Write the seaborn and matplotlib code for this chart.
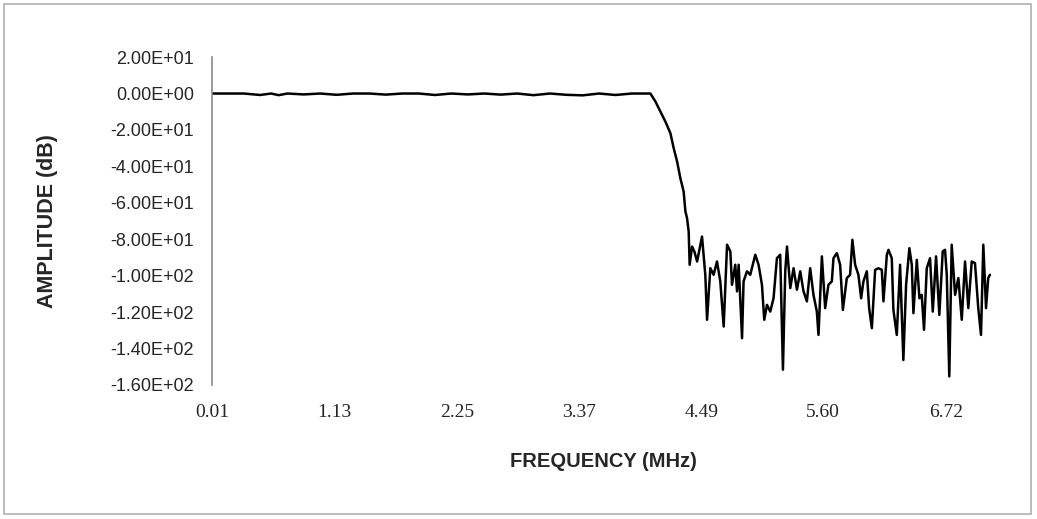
import matplotlib
matplotlib.use("Agg")
import matplotlib.pyplot as plt
import seaborn as sns
import numpy as np
import pandas as pd
from matplotlib.patches import Rectangle

# passband (MHz, dB)
pass_freq = [0.01, 0.15, 0.30, 0.45, 0.55, 0.62, 0.70, 0.85, 1.00, 1.15, 1.30, 1.45,
             1.60, 1.75, 1.90, 2.05, 2.20, 2.35, 2.50, 2.65, 2.80, 2.95, 3.10, 3.25,
             3.40, 3.55, 3.70, 3.85, 3.95]
pass_amp = [0.0, 0.0, 0.0, -0.8, 0.0, -0.9, 0.0, -0.5, 0.0, -0.7, 0.0, 0.0,
            -0.6, 0.0, 0.0, -0.8, 0.0, -0.5, 0.0, -0.6, 0.0, -0.9, 0.0, -0.7,
            -1.0, 0.0, -0.8, 0.0, 0.0]

# transition band
trans_freq = [4.019, 4.065, 4.110, 4.156, 4.202, 4.232, 4.263, 4.293, 4.323, 4.339, 4.354]
trans_amp = [0.0, -4.4, -9.9, -15.4, -21.8, -30.0, -37.3, -46.5, -53.8, -64.7, -68.4]

# stopband noise floor
stop_freq = [4.369, 4.378, 4.400, 4.421, 4.446, 4.491, 4.521, 4.537, 4.567, 4.597,
             4.628, 4.658, 4.689, 4.720, 4.750, 4.765, 4.795, 4.811, 4.826, 4.857,
             4.871, 4.902, 4.932, 4.978, 5.008, 5.039, 5.060, 5.085, 5.115, 5.145,
             5.176, 5.206, 5.231, 5.252, 5.268, 5.298, 5.328, 5.359, 5.389, 5.419,
             5.450, 5.480, 5.510, 5.541, 5.556, 5.587, 5.617, 5.647, 5.678, 5.693,
             5.724, 5.754, 5.779, 5.815, 5.845, 5.866, 5.891, 5.921, 5.946, 5.967,
             5.998, 6.019, 6.044, 6.074, 6.104, 6.135, 6.150, 6.181, 6.196, 6.226,
             6.241, 6.272, 6.302, 6.332, 6.357, 6.387, 6.409, 6.424, 6.455, 6.479,
             6.500, 6.521, 6.546, 6.576, 6.601, 6.631, 6.661, 6.692, 6.713, 6.729,
             6.743, 6.752, 6.774, 6.805, 6.835, 6.866, 6.896, 6.926, 6.957, 6.987,
             7.017, 7.042, 7.063, 7.088, 7.108, 7.124]
stop_amp = [-75.7, -94.0, -84.0, -86.7, -92.2, -78.5, -99.5, -124.2, -95.9, -99.5,
            -92.2, -103.1, -127.9, -83.0, -86.7, -105.0, -94.0, -108.6, -94.0, -134.3,
            -103.1, -97.6, -99.5, -88.5, -94.0, -105.0, -124.2, -116.0, -119.7, -112.4,
            -90.4, -88.5, -151.6, -97.6, -84.0, -106.8, -95.9, -107.7, -97.6, -108.6,
            -114.1, -95.9, -110.5, -119.7, -132.5, -89.4, -117.8, -105.0, -103.1, -90.4,
            -87.6, -94.0, -118.8, -101.3, -99.5, -80.3, -94.0, -99.5, -112.4, -103.1,
            -97.6, -117.8, -128.8, -96.8, -95.9, -96.8, -114.1, -88.5, -85.8, -90.4,
            -118.8, -132.5, -94.0, -146.3, -105.0, -84.9, -94.0, -120.6, -91.3, -112.4,
            -110.5, -129.7, -95.9, -90.4, -119.7, -89.4, -121.5, -86.7, -85.8, -99.5,
            -133.4, -155.3, -83.0, -110.5, -101.3, -124.2, -92.2, -117.8, -92.2, -93.1,
            -117.8, -132.5, -83.0, -117.8, -101.3, -99.5]

xtick_vals = [0.01, 1.13, 2.25, 3.37, 4.49, 5.60, 6.72]
xtick_labels = ["0.01", "1.13", "2.25", "3.37", "4.49", "5.60", "6.72"]
ytick_vals = [20, 0, -20, -40, -60, -80, -100, -120, -140, -160]
ytick_labels = ["2.00E+01", "0.00E+00", "-2.00E+01", "-4.00E+01", "-6.00E+01",
                "-8.00E+01", "-1.00E+02", "-1.20E+02", "-1.40E+02", "-1.60E+02"]

df = pd.DataFrame({
    "freq": pass_freq + trans_freq + stop_freq,
    "amp": pass_amp + trans_amp + stop_amp,
})

sns.set_style("white")
plt.rcParams["font.family"] = ["Liberation Sans", "DejaVu Sans"]

fig = plt.figure(figsize=(10.37, 5.19), dpi=100)
ax = fig.add_axes([0.2044, 0.2582, 0.7551, 0.6318])

sns.lineplot(data=df, x="freq", y="amp", ax=ax, color="black", linewidth=1.8,
             estimator=None, sort=False)

ax.set_xlim(0.01, 7.17)
ax.set_ylim(-160, 20)
ax.set_xticks(xtick_vals)
ax.set_xticklabels(xtick_labels, family="Liberation Serif", fontsize=14)
ax.set_yticks(ytick_vals)
ax.set_yticklabels(ytick_labels, fontsize=13)
ax.tick_params(axis="x", length=0, pad=14)
ax.tick_params(axis="y", direction="inout", length=10, width=1, color="#8a8a8a", pad=8)

for side in ["top", "right", "bottom"]:
    ax.spines[side].set_visible(False)
ax.spines["left"].set_color("#8a8a8a")
ax.spines["left"].set_linewidth(1.2)

ax.set_xlabel("FREQUENCY (MHz)", fontsize=14.5, fontweight="bold", labelpad=22)
ax.set_ylabel("AMPLITUDE (dB)", fontsize=15.5, fontweight="bold")
ax.yaxis.set_label_coords(-0.197, 0.5)

# outer chart border
fig.patches.append(Rectangle((0.004, 0.01), 0.99, 0.983, transform=fig.transFigure,
                             fill=False, edgecolor="#b0b0b0", linewidth=1.2))

fig.savefig("out.png", dpi=100)
